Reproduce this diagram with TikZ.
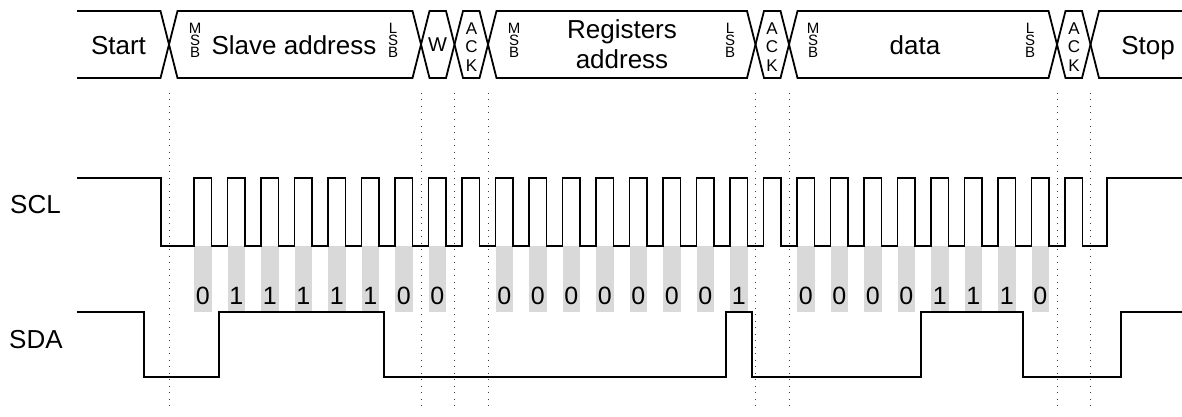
\documentclass[tikz,border=0pt]{standalone}
\usepackage{fontspec}
\setmainfont{Liberation Sans}
\usetikzlibrary{positioning}

\tikzset{
  frame/.style={line width=1.8pt, line join=miter},
  wave/.style={line width=1.8pt, line join=miter},
  guide/.style={black!75, line width=1pt, dash pattern=on 1pt off 5.5pt},
  bitbar/.style={fill=black!15},
  lbl/.style={font=\fontsize{26}{30}\selectfont, inner sep=0pt, anchor=base},
  sig/.style={font=\fontsize{26}{30}\selectfont, inner sep=0pt, anchor=base west},
  bit/.style={font=\fontsize{25}{25}\selectfont, inner sep=0pt, anchor=base},
  msb/.style={font=\fontsize{15}{15}\selectfont, inner sep=0pt, anchor=base},
  ack/.style={font=\fontsize{17}{18.5}\selectfont, inner sep=0pt, align=center},
}

\begin{document}
\begin{tikzpicture}[x=1pt, y=-1pt]
    \useasboundingbox (0,0) rectangle (1182,417);

    \foreach \x in {169,421,454.5,488,755.5,789,1057,1090.5}
      \draw[guide] (\x,93) -- (\x,410);

    \draw[frame] (77,11) -- (160.5,11) -- (169,44.5) -- (160.5,78) -- (77,78);
    \foreach \a/\b in {169/421,421/454.5,454.5/488,488/755.5,755.5/789,789/1057,1057/1090.5}
      \draw[frame] (\a,44.5) -- (\a+8.5,11) -- (\b-8.5,11) -- (\b,44.5) -- (\b-8.5,78) -- (\a+8.5,78) -- cycle;
    \draw[frame] (1182,11) -- (1099,11) -- (1090.5,44.5) -- (1099,78) -- (1182,78);

    \node[lbl] (start) at (118.5,54.5) {Start};
    \node[lbl] (slave) at (294,54.5) {Slave address};
    \node[font=\fontsize{20}{20}\selectfont, inner sep=0pt] (rw) at (437.5,45) {W};
    \node[lbl, align=center] (reg) at (622,69) {Registers\\address};
    \node[lbl] (data) at (915,54.5) {data};
    \node[lbl] (stop) at (1148,54.5) {Stop};

    \foreach \x/\t/\n in {195/M/msb1,393/L/lsb1,514/M/msb2,730/L/lsb2,813/M/msb3,1030/L/lsb3} {
      \node[msb] (\n-a) at (\x,33.5) {\t};
      \node[msb] (\n-b) at (\x,45.5) {S};
      \node[msb] (\n-c) at (\x,57.5) {B};
    }
    \node[ack] (ack1) at (471.5,47) {A\\C\\K};
    \node[ack] (ack2) at (772,47) {A\\C\\K};
    \node[ack] (ack3) at (1074,47) {A\\C\\K};

    \node[sig] (scl) at (10,213) {SCL};
    \node[sig] (sda) at (9,348) {SDA};

    \foreach \i/\v in {0/0,1/1,2/1,3/1,4/1,5/1,6/0,7/0,9/0,10/0,11/0,12/0,13/0,14/0,15/0,16/1,18/0,19/0,20/0,21/0,22/1,23/1,24/1,25/0} {
      \fill[bitbar] ({194+\i*33.5},246) rectangle ++(17.5,66);
      \node[bit] (bit\i) at ({202.75+\i*33.5},304.5) {\v};
    }

    \draw[wave] (77,178) -- (161,178) -- (161,246)
      \foreach \i in {0,...,26} { -- ({194+\i*33.5},246) -- ++(0,-68) -- ++(17.5,0) -- ++(0,68) }
      -- (1107,246) -- (1107,178) -- (1182,178);

    \draw[wave] (77,312) -- (144,312) -- (144,377) -- (219,377) -- (219,312) -- (384,312) -- (384,377)
      -- (726,377) -- (726,312) -- (752,312) -- (752,377) -- (921,377) -- (921,312) -- (1023,312)
      -- (1023,377) -- (1121,377) -- (1121,312) -- (1182,312);
\end{tikzpicture}
\end{document}
